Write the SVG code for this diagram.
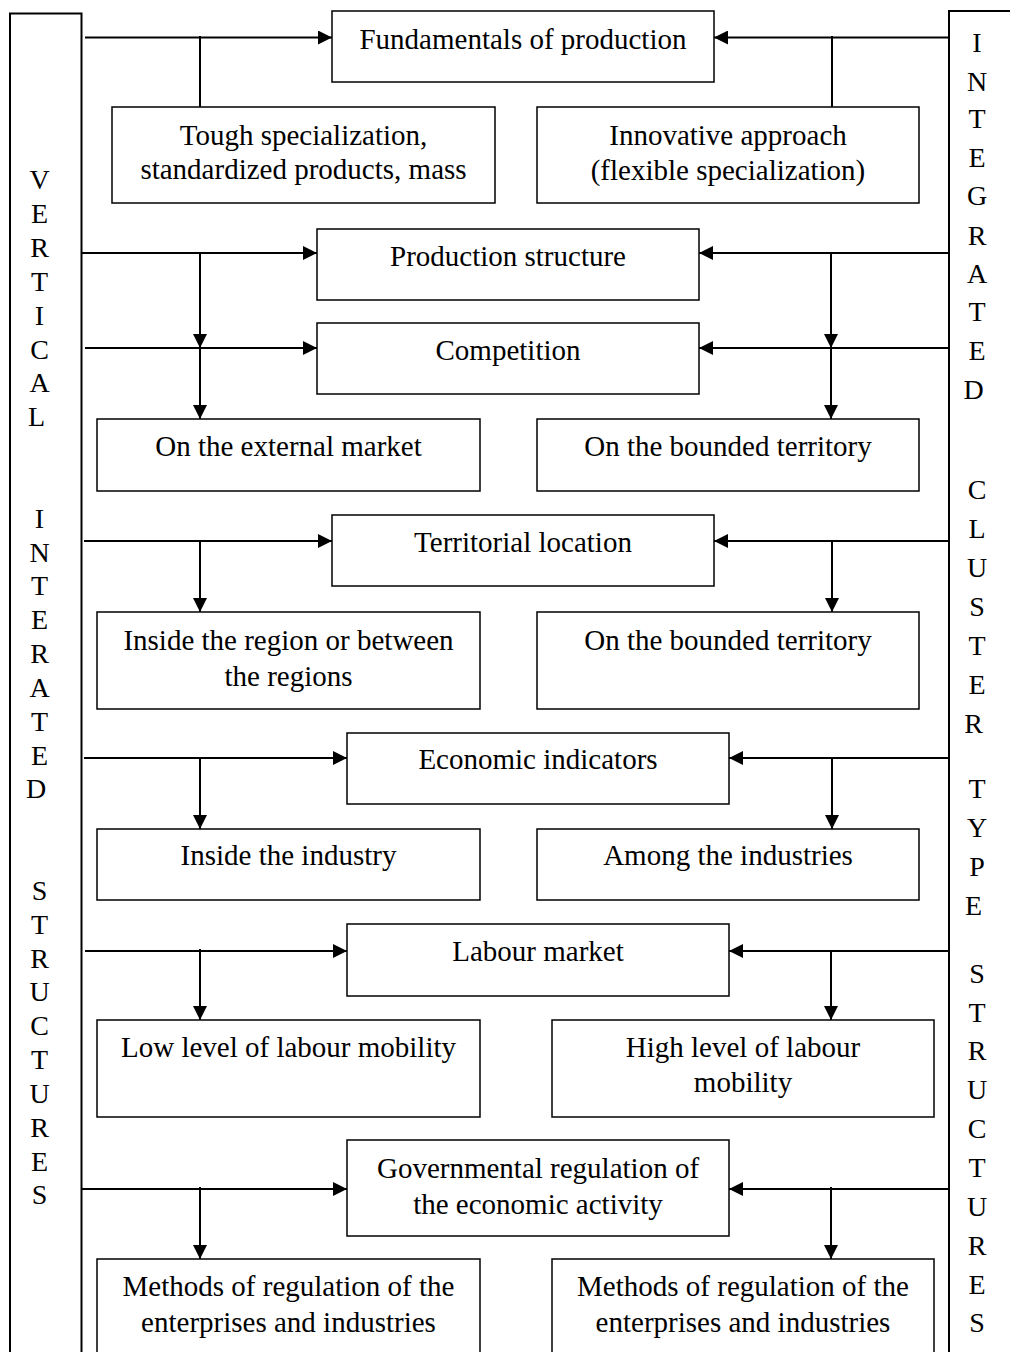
<svg xmlns="http://www.w3.org/2000/svg" width="1010" height="1352" viewBox="0 0 1010 1352">
<style>
.bx{fill:#fff;stroke:#000;stroke-width:1.5}
.side{fill:#fff;stroke:#000;stroke-width:2}
.t{font-family:"Liberation Serif","Times New Roman",serif;font-size:29px;fill:#000;text-anchor:middle}
.l{font-family:"Liberation Serif","Times New Roman",serif;font-size:28px;fill:#000;text-anchor:middle}
.c{fill:none;stroke:#000;stroke-width:2}
.a{fill:none;stroke:#000;stroke-width:2;marker-end:url(#ah)}
</style>
<defs>
<marker id="ah" markerUnits="userSpaceOnUse" markerWidth="14" markerHeight="14" refX="14" refY="7" orient="auto">
<path d="M0,0 L14,7 L0,14 z" fill="#000"/>
</marker>
</defs>
<rect width="1010" height="1352" fill="#fff"/>
<g id="vertical-structures">
<rect class="side" x="10" y="13.5" width="71.5" height="1350"/>
<text class="l" x="39.5">
<tspan x="39.5" y="189.3">V</tspan><tspan x="39.5" y="223.1">E</tspan><tspan x="39.5" y="257">R</tspan><tspan x="39.5" y="290.8">T</tspan><tspan x="39.5" y="324.6">I</tspan><tspan x="39.5" y="358.5">C</tspan><tspan x="39.5" y="392.3">A</tspan><tspan x="39.5" y="426.1">L</tspan>
<tspan x="39.5" y="527.6">I</tspan><tspan x="39.5" y="561.5">N</tspan><tspan x="39.5" y="595.3">T</tspan><tspan x="39.5" y="629.1">E</tspan><tspan x="39.5" y="663">R</tspan><tspan x="39.5" y="696.8">A</tspan><tspan x="39.5" y="730.6">T</tspan><tspan x="39.5" y="764.5">E</tspan><tspan x="39.5" y="798.3">D</tspan>
<tspan x="39.5" y="899.8">S</tspan><tspan x="39.5" y="933.6">T</tspan><tspan x="39.5" y="967.5">R</tspan><tspan x="39.5" y="1001.3">U</tspan><tspan x="39.5" y="1035.1">C</tspan><tspan x="39.5" y="1069">T</tspan><tspan x="39.5" y="1102.8">U</tspan><tspan x="39.5" y="1136.6">R</tspan><tspan x="39.5" y="1170.5">E</tspan><tspan x="39.5" y="1204.3">S</tspan>
</text>
</g>
<g id="cluster-structures">
<rect class="side" x="949" y="11" width="80" height="1352"/>
<text class="l">
<tspan x="977" y="52">I</tspan><tspan x="977" y="91">N</tspan><tspan x="977" y="128">T</tspan><tspan x="977" y="166.5">E</tspan><tspan x="977" y="205">G</tspan><tspan x="977" y="244.5">R</tspan><tspan x="977" y="283">A</tspan><tspan x="977" y="321">T</tspan><tspan x="977" y="360">E</tspan><tspan x="977" y="399">D</tspan>
<tspan x="977" y="499">C</tspan><tspan x="977" y="538">L</tspan><tspan x="977" y="577">U</tspan><tspan x="977" y="616">S</tspan><tspan x="977" y="655">T</tspan><tspan x="977" y="694">E</tspan><tspan x="977" y="733">R</tspan>
<tspan x="977" y="798">T</tspan><tspan x="977" y="837">Y</tspan><tspan x="977" y="876">P</tspan><tspan x="977" y="915">E</tspan>
<tspan x="977" y="983">S</tspan><tspan x="977" y="1021.5">T</tspan><tspan x="977" y="1060">R</tspan><tspan x="977" y="1099">U</tspan><tspan x="977" y="1138">C</tspan><tspan x="977" y="1177">T</tspan><tspan x="977" y="1216">U</tspan><tspan x="977" y="1255">R</tspan><tspan x="977" y="1294">E</tspan><tspan x="977" y="1332">S</tspan>
</text>
</g>
<g id="connectors">
<line class="a" x1="85" y1="37.5" x2="332" y2="37.5"/>
<line class="c" x1="200" y1="36" x2="200" y2="107"/>
<line class="a" x1="949" y1="37.5" x2="714" y2="37.5"/>
<line class="c" x1="832" y1="36" x2="832" y2="107"/>

<line class="a" x1="82" y1="253" x2="317" y2="253"/>
<line class="a" x1="200" y1="253" x2="200" y2="348"/>
<line class="a" x1="200" y1="348" x2="200" y2="419"/>
<line class="a" x1="85" y1="348" x2="317" y2="348"/>
<line class="a" x1="949" y1="253" x2="699" y2="253"/>
<line class="a" x1="831" y1="253" x2="831" y2="348"/>
<line class="a" x1="831" y1="348" x2="831" y2="419"/>
<line class="a" x1="949" y1="348" x2="699" y2="348"/>

<line class="a" x1="84" y1="541" x2="332" y2="541"/>
<line class="a" x1="200" y1="541" x2="200" y2="612"/>
<line class="a" x1="949" y1="541" x2="714" y2="541"/>
<line class="a" x1="832" y1="541" x2="832" y2="612"/>

<line class="a" x1="84" y1="758" x2="347" y2="758"/>
<line class="a" x1="200" y1="757" x2="200" y2="829"/>
<line class="a" x1="949" y1="758" x2="729" y2="758"/>
<line class="a" x1="832" y1="758" x2="832" y2="829"/>

<line class="a" x1="85" y1="951" x2="347" y2="951"/>
<line class="a" x1="200" y1="949" x2="200" y2="1020"/>
<line class="a" x1="949" y1="951" x2="729" y2="951"/>
<line class="a" x1="831" y1="951" x2="831" y2="1020"/>

<line class="a" x1="82" y1="1189" x2="347" y2="1189"/>
<line class="a" x1="200" y1="1187" x2="200" y2="1259"/>
<line class="a" x1="949" y1="1189" x2="729" y2="1189"/>
<line class="a" x1="831" y1="1187" x2="831" y2="1259"/>
</g>
<g id="fundamentals">
<rect class="bx" x="332" y="11" width="382" height="71"/>
<text class="t" x="523" y="48.5">Fundamentals of production</text>
</g>
<g id="tough">
<rect class="bx" x="112" y="107" width="383" height="96"/>
<text class="t" x="303.5" y="144.5">Tough specialization,</text>
<text class="t" x="303.5" y="179">standardized products, mass</text>
</g>
<g id="innovative">
<rect class="bx" x="537" y="107" width="382" height="96"/>
<text class="t" x="728" y="145">Innovative approach</text>
<text class="t" x="728" y="180">(flexible specialization)</text>
</g>
<g id="production-structure">
<rect class="bx" x="317" y="229" width="382" height="71"/>
<text class="t" x="508" y="266">Production structure</text>
</g>
<g id="competition">
<rect class="bx" x="317" y="323" width="382" height="71"/>
<text class="t" x="508" y="360">Competition</text>
</g>
<g id="external-market">
<rect class="bx" x="97" y="419" width="383" height="72"/>
<text class="t" x="288.5" y="456">On the external market</text>
</g>
<g id="bounded-territory-1">
<rect class="bx" x="537" y="419" width="382" height="72"/>
<text class="t" x="728" y="456">On the bounded territory</text>
</g>
<g id="territorial-location">
<rect class="bx" x="332" y="515" width="382" height="71"/>
<text class="t" x="523" y="552">Territorial location</text>
</g>
<g id="inside-region">
<rect class="bx" x="97" y="612" width="383" height="97"/>
<text class="t" x="288.5" y="650">Inside the region or between</text>
<text class="t" x="288.5" y="686">the regions</text>
</g>
<g id="bounded-territory-2">
<rect class="bx" x="537" y="612" width="382" height="97"/>
<text class="t" x="728" y="650">On the bounded territory</text>
</g>
<g id="economic-indicators">
<rect class="bx" x="347" y="733" width="382" height="71"/>
<text class="t" x="538" y="769">Economic indicators</text>
</g>
<g id="inside-industry">
<rect class="bx" x="97" y="829" width="383" height="71"/>
<text class="t" x="288.5" y="865">Inside the industry</text>
</g>
<g id="among-industries">
<rect class="bx" x="537" y="829" width="382" height="71"/>
<text class="t" x="728" y="865">Among the industries</text>
</g>
<g id="labour-market">
<rect class="bx" x="347" y="924" width="382" height="72"/>
<text class="t" x="538" y="961">Labour market</text>
</g>
<g id="low-mobility">
<rect class="bx" x="97" y="1020" width="383" height="97"/>
<text class="t" x="288.5" y="1057">Low level of labour mobility</text>
</g>
<g id="high-mobility">
<rect class="bx" x="552" y="1020" width="382" height="97"/>
<text class="t" x="743" y="1057">High level of labour</text>
<text class="t" x="743" y="1092">mobility</text>
</g>
<g id="governmental-regulation">
<rect class="bx" x="347" y="1140" width="382" height="96"/>
<text class="t" x="538" y="1178">Governmental regulation of</text>
<text class="t" x="538" y="1214">the economic activity</text>
</g>
<g id="methods-left">
<rect class="bx" x="97" y="1259" width="383" height="110"/>
<text class="t" x="288.5" y="1296">Methods of regulation of the</text>
<text class="t" x="288.5" y="1332">enterprises and industries</text>
</g>
<g id="methods-right">
<rect class="bx" x="552" y="1259" width="382" height="110"/>
<text class="t" x="743" y="1296">Methods of regulation of the</text>
<text class="t" x="743" y="1332">enterprises and industries</text>
</g>
</svg>
